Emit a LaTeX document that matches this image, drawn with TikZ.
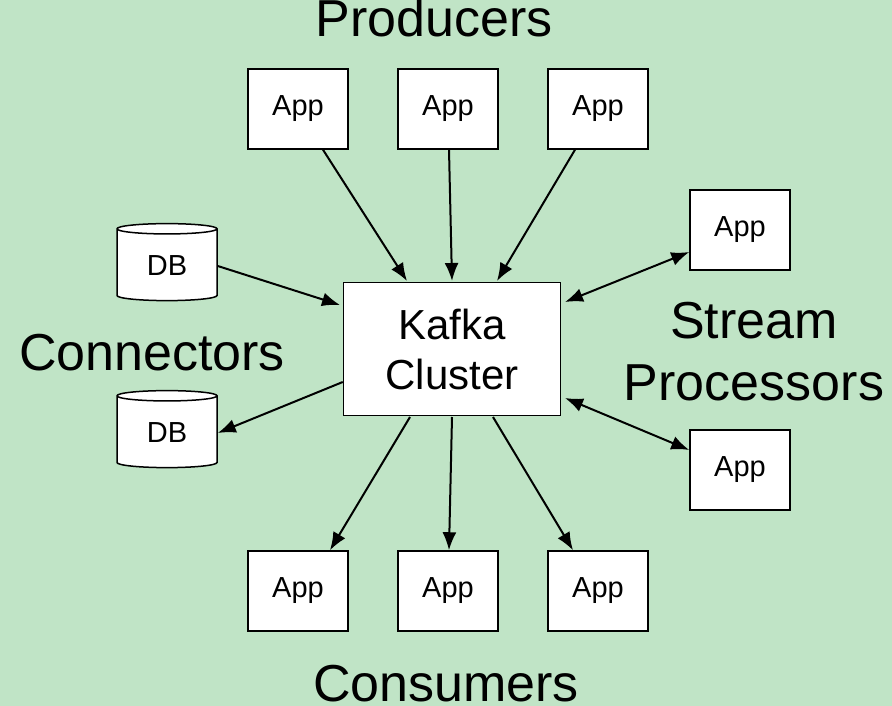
\documentclass[tikz,border=0pt]{standalone}
\usepackage{fontspec}
\setmainfont{Liberation Sans}
\usetikzlibrary{shapes.geometric,arrows.meta}
\definecolor{bg}{HTML}{C0E4C6}
\begin{document}
\begin{tikzpicture}[x=1pt,y=-1pt,
 box/.style={draw,fill=white,line width=1.5pt,minimum width=100pt,minimum height=80pt,font=\fontsize{29}{34}\selectfont},
 db/.style={draw,fill=white,line width=1.5pt,cylinder,shape border rotate=90,aspect=0.22,minimum width=100pt,minimum height=77pt,font=\fontsize{29}{34}\selectfont},
 lab/.style={font=\fontsize{52}{60}\selectfont,align=center},
 arr/.style={line width=2pt,-{Latex[length=18pt,width=14pt]}},
 darr/.style={line width=2pt,{Latex[length=18pt,width=14pt]}-{Latex[length=18pt,width=14pt]}}]
\fill[bg] (0,0) rectangle (892,706);
\useasboundingbox (0,0) rectangle (892,706);
\node[box] (p1) at (298,109) {App};
\node[box] (p2) at (448,109) {App};
\node[box] (p3) at (598,109) {App};
\node[box] (s1) at (740,230) {App};
\node[box] (s2) at (740,470) {App};
\node[box] (c1) at (298,591) {App};
\node[box] (c2) at (448,591) {App};
\node[box] (c3) at (598,591) {App};
\node[box,minimum width=217pt,minimum height=133pt,align=center,font=\fontsize{42}{50}\selectfont] (k) at (452,349) {Kafka\\Cluster};
\node[db] (d1) at (167,266) {DB};
\node[db] (d2) at (167,433) {DB};
\node[lab] (lp) at (434,18) {Producers};
\node[lab] (lc) at (152,353) {Connectors};
\node[lab,font=\fontsize{52}{62}\selectfont] (ls) at (754,352) {Stream\\Processors};
\node[lab] (lcs) at (446,684) {Consumers};
\draw[arr] (p1.south -| 323,0) -- (407,281);
\draw[arr] (p2.south -| 449,0) -- (452,281);
\draw[arr] (p3.south -| 575,0) -- (497,281);
\draw[arr] (d1.east) -- (340,305);
\draw[arr] (k.west |- 0,382) -- (d2.east);
\draw[arr] (410,417) -- (c1.north -| 330,0);
\draw[arr] (452,417) -- (c2.north -| 449,0);
\draw[arr] (493,417) -- (c3.north -| 573,0);
\draw[darr] (565,302) -- (s1.west |- 0,252);
\draw[darr] (565,398) -- (s2.west |- 0,450);
\end{tikzpicture}
\end{document}
